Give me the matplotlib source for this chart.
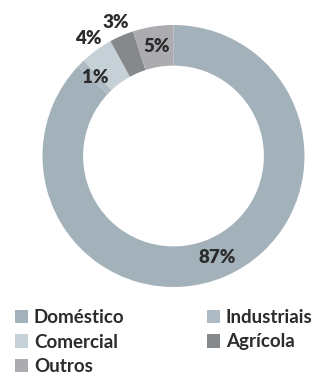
import numpy as np
import matplotlib
matplotlib.use("Agg")
import matplotlib.pyplot as plt
from matplotlib.patches import Patch

categories = ["Doméstico", "Industriais", "Comercial", "Agrícola", "Outros"]
shares = [87, 1, 4, 3, 5]
colors = ["#a3b1ba", "#aebbc4", "#c6d0d7", "#86898c", "#acacb0"]
# label placement: inside the ring or just outside it
label_outside = [False, False, True, True, False]

plt.rcParams["font.family"] = ["Lato", "DejaVu Sans"]

W, H = 335, 376
fig = plt.figure(figsize=(W / 100, H / 100), dpi=100)
cx, cy, R = 173.5, 220, 131
ax = fig.add_axes([(cx - R) / W, (cy - R) / H, 2 * R / W, 2 * R / H])

ring = 0.31
wedges, _ = ax.pie(shares, colors=colors, startangle=90, counterclock=False,
                   radius=1, wedgeprops=dict(width=ring, edgecolor="none"))
ax.set_xlim(-1, 1)
ax.set_ylim(-1, 1)
ax.set_aspect("equal")
ax.axis("off")

for w, val, out in zip(wedges, shares, label_outside):
    mid = np.deg2rad((w.theta1 + w.theta2) / 2)
    r = 1.11 if out else 1 - ring / 2
    ax.text(r * np.cos(mid), r * np.sin(mid), f"{val}%", ha="center", va="center",
            fontsize=13.5, fontweight="heavy", color="#2b2b2b")

# legend laid out row by row: two entries per row
order = [0, 2, 4, 1, 3]
handles = [Patch(facecolor=colors[i], edgecolor="none") for i in order]
labels = [categories[i] for i in order]
fig.legend(handles, labels, ncol=2, loc="upper left",
           bbox_to_anchor=(0.028, 1 - 303 / H), frameon=False,
           prop=dict(size=13.5, weight="bold"), handlelength=0.7, handleheight=0.7,
           handletextpad=0.3, columnspacing=4.4, labelspacing=0.42,
           labelcolor="#2b2b2b", borderaxespad=0, borderpad=0.3)

fig.savefig("out.png", dpi=100)
